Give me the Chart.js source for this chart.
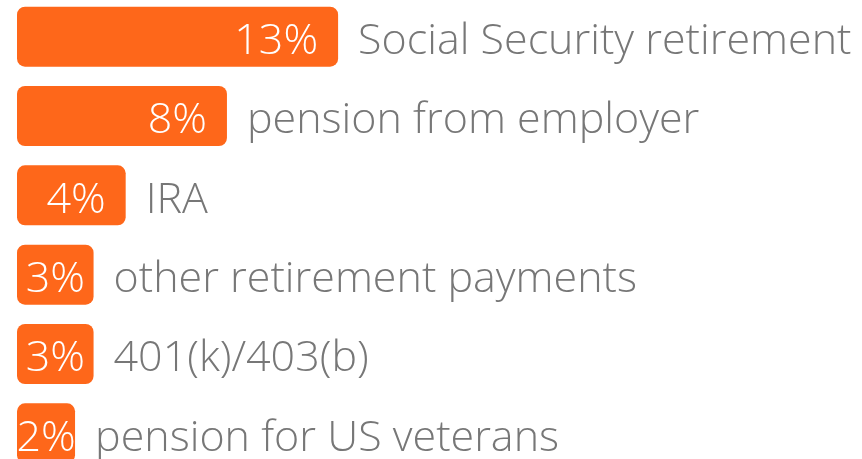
<!DOCTYPE html>
<html>
<head>
<meta charset="utf-8">
<script src="https://cdn.jsdelivr.net/npm/chart.js@4"></script>
<style>
  html, body { margin: 0; padding: 0; background: #fff; overflow: hidden; }
  body { width: 862px; height: 459px; position: relative; }
  .wrap { position: absolute; left: 0; top: -3px; width: 862px; height: 476px; }
</style>
</head>
<body>
<div class="wrap"><canvas id="chart"></canvas></div>
<script>
// data
const categories = [
    'Social Security retirement',
    'pension from employer',
    'IRA',
    'other retirement payments',
    '401(k)/403(b)',
    'pension for US veterans'
];
const shares = [13, 8.5, 4.4, 3.1, 3.1, 2.35];
const shareLabels = ['13%', '8%', '4%', '3%', '3%', '2%'];

const ORANGE = '#fe671a';
const GREY = '#777777';
const FONT = '300 43px "Open Sans", sans-serif';

// draws value inside bar and category to the right
const barText = {
    id: 'barText',
    afterDatasetsDraw(chart) {
        const ctx = chart.ctx;
        const meta = chart.getDatasetMeta(0);
        ctx.save();
        ctx.font = FONT;
        ctx.textBaseline = 'middle';
        meta.data.forEach((bar, i) => {
            const left = bar.base;
            const right = bar.x;
            const w = right - left;
            const txt = shareLabels[i];
            const tw = ctx.measureText(txt).width;
            const y = bar.y + 5;
            ctx.fillStyle = '#fff';
            if (tw + 40 > w) {
                ctx.textAlign = 'center';
                ctx.fillText(txt, (left + right) / 2, y);
            } else {
                ctx.textAlign = 'right';
                ctx.fillText(txt, right - 20, y);
            }
            ctx.textAlign = 'left';
            ctx.fillStyle = GREY;
            ctx.fillText(categories[i], right + 20, y);
        });
        ctx.restore();
    }
};

new Chart(document.getElementById('chart'), {
    type: 'bar',
    data: {
        labels: categories,
        datasets: [{
            data: shares,
            backgroundColor: ORANGE,
            borderRadius: 8,
            borderSkipped: false,
            categoryPercentage: 1,
            barPercentage: 0.757
        }]
    },
    options: {
        indexAxis: 'y',
        responsive: true,
        maintainAspectRatio: false,
        animation: false,
        layout: { padding: { left: 17, right: 104, top: 0, bottom: 0 } },
        scales: {
            x: { display: false, min: 0, max: 30 },
            y: { display: false }
        },
        plugins: { legend: { display: false }, tooltip: { enabled: false } }
    },
    plugins: [barText]
});
</script>
</body>
</html>
